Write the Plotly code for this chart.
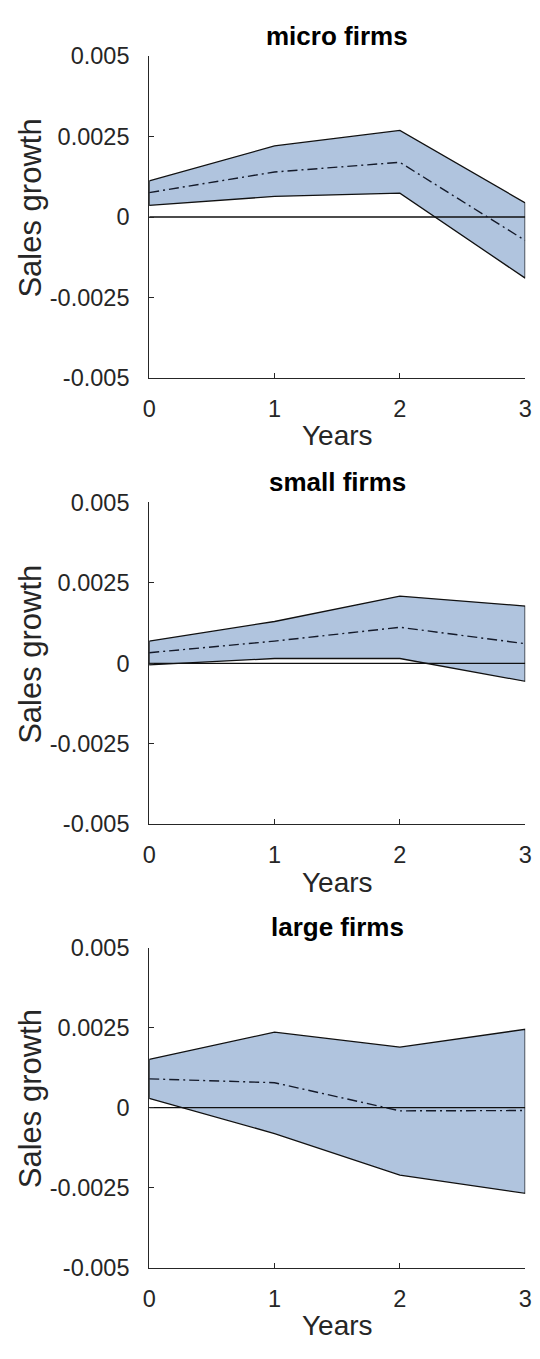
import plotly.graph_objects as go

# Horizon (years after the shock)
years = [0, 1, 2, 3]

# Sales-growth response: confidence band and point estimate per firm size
micro_upper = [0.00112, 0.00221, 0.00269, 0.00044]
micro_mean = [0.00076, 0.00140, 0.00170, -0.00073]
micro_lower = [0.00036, 0.00064, 0.00074, -0.00190]

small_upper = [0.00069, 0.00130, 0.00209, 0.00178]
small_mean = [0.00033, 0.00069, 0.00112, 0.00061]
small_lower = [-0.00005, 0.00015, 0.00015, -0.00056]

large_upper = [0.00151, 0.00236, 0.00189, 0.00245]
large_mean = [0.00090, 0.00078, -0.00010, -0.00009]
large_lower = [0.00029, -0.00081, -0.00211, -0.00268]

panel_titles = ["micro firms", "small firms", "large firms"]
y_tick_vals = [-0.005, -0.0025, 0, 0.0025, 0.005]
y_tick_text = ["-0.005", "-0.0025", "0", "0.0025", "0.005"]
x_label = "Years"
y_label = "Sales growth"

panels = [
    (micro_upper, micro_mean, micro_lower),
    (small_upper, small_mean, small_lower),
    (large_upper, large_mean, large_lower),
]

W, H = 540, 1359
FONT = "Liberation Sans, Arial, Helvetica, sans-serif"
AXIS_COLOR = "#262626"
BAND_COLOR = "#b0c4de"

# pixel geometry of each axes box: (top, bottom)
x_left, x_right = 146, 532
boxes = [(44, 372), (499, 827), (953, 1279)]


def px_x(p):
    return p / W


def px_y(p):
    return 1 - p / H


fig = go.Figure()
annotations = []

for i, ((upper, mean, lower), (top, bottom)) in enumerate(zip(panels, boxes)):
    n = i + 1
    xa = "x" if n == 1 else f"x{n}"
    ya = "y" if n == 1 else f"y{n}"

    # shaded band: upper edge forward, lower edge backward, closed outline
    band_x = years + years[::-1] + [years[0]]
    band_y = upper + lower[::-1] + [upper[0]]
    fig.add_trace(go.Scatter(
        x=band_x, y=band_y, xaxis=xa, yaxis=ya,
        mode="lines", fill="toself", fillcolor=BAND_COLOR,
        line=dict(color="#111111", width=1.3),
        hoverinfo="skip", showlegend=False,
    ))
    # zero reference line
    fig.add_trace(go.Scatter(
        x=[years[0], years[-1]], y=[0, 0], xaxis=xa, yaxis=ya,
        mode="lines", line=dict(color="#111111", width=1.3),
        hoverinfo="skip", showlegend=False,
    ))
    # point estimate
    fig.add_trace(go.Scatter(
        x=years, y=mean, xaxis=xa, yaxis=ya,
        mode="lines", line=dict(color="#141a2a", width=1.4, dash="10px,4px,2px,4px"),
        showlegend=False,
    ))

    axis_common = dict(
        showline=True, linecolor=AXIS_COLOR, linewidth=1,
        ticks="inside", ticklen=5, tickwidth=1, tickcolor=AXIS_COLOR,
        showgrid=False, zeroline=False, mirror=False,
        tickfont=dict(family=FONT, size=23.5, color=AXIS_COLOR),
    )
    fig.layout[f"xaxis{'' if n == 1 else n}"] = dict(
        axis_common,
        domain=[px_x(x_left), px_x(x_right)],
        anchor=ya, range=[0, 3],
        tickvals=years, ticktext=[str(v) for v in years],
        ticklabelstandoff=10,
    )
    fig.layout[f"yaxis{'' if n == 1 else n}"] = dict(
        axis_common,
        domain=[px_y(bottom), px_y(top)],
        anchor=xa, range=[-0.005, 0.005],
        tickvals=y_tick_vals, ticktext=y_tick_text,
        ticklabelstandoff=14,
    )

    cx = (x_left + x_right) / 2
    annotations.append(dict(
        text=f"<b>{panel_titles[i]}</b>", x=px_x(cx), y=px_y(top - 21),
        xref="paper", yref="paper", xanchor="center", yanchor="middle",
        showarrow=False, font=dict(family=FONT, size=26, color="#000000"),
    ))
    annotations.append(dict(
        text=x_label, x=px_x(cx), y=px_y(bottom + 59),
        xref="paper", yref="paper", xanchor="center", yanchor="middle",
        showarrow=False, font=dict(family=FONT, size=28, color=AXIS_COLOR),
    ))
    annotations.append(dict(
        text=y_label, x=px_x(24), y=px_y((top + bottom) / 2 - 9),
        xref="paper", yref="paper", xanchor="center", yanchor="middle",
        textangle=-90, showarrow=False,
        font=dict(family=FONT, size=31, color=AXIS_COLOR),
    ))

fig.update_layout(
    width=W, height=H,
    margin=dict(l=0, r=0, t=0, b=0),
    paper_bgcolor="white", plot_bgcolor="white",
    annotations=annotations,
)

fig.write_html("out.html")
